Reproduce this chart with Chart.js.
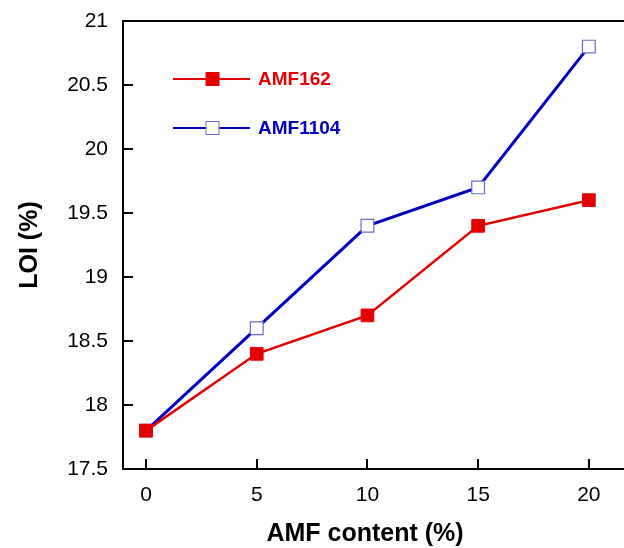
<!DOCTYPE html>
<html>
<head>
<meta charset="utf-8">
<script src="https://cdn.jsdelivr.net/npm/chart.js@4"></script>
<style>
  html, body { margin: 0; padding: 0; background: #fff; overflow: hidden; }
  #wrap { width: 640px; height: 548px; }
</style>
</head>
<body>
<div id="wrap"><canvas id="loiChart" width="640" height="548"></canvas></div>
<script>
const amfContent = [0, 5, 10, 15, 20];
const amf162 = [17.8, 18.4, 18.7, 19.4, 19.6];
const amf1104 = [17.8, 18.6, 19.4, 19.7, 20.8];
const xTicks = [0, 5, 10, 15, 20];
const yTicks = [17.5, 18, 18.5, 19, 19.5, 20, 20.5, 21];

const RED = "#e30000";
const BLUE = "#0000c0";
const tickFont = { family: "Liberation Sans, Arial, sans-serif", size: 21 };

// box, inward ticks, axis titles and the in-plot legend
const decorations = {
    id: "decorations",
    afterDraw(chart) {
        const c = chart.ctx;
        const a = chart.chartArea;
        const x = chart.scales.x, y = chart.scales.y;
        c.save();
        c.strokeStyle = "#000";
        c.lineWidth = 2;
        c.strokeRect(a.left, a.top, a.right - a.left, a.bottom - a.top);
        c.beginPath();
        xTicks.forEach(v => {
            const px = Math.round(x.getPixelForValue(v));
            c.moveTo(px, a.bottom);
            c.lineTo(px, a.bottom - 10);
        });
        yTicks.forEach(v => {
            const py = Math.round(y.getPixelForValue(v));
            c.moveTo(a.left, py);
            c.lineTo(a.left + 10, py);
        });
        c.stroke();

        c.fillStyle = "#000";
        c.font = "bold 25px Liberation Sans, Arial, sans-serif";
        c.textAlign = "center";
        c.textBaseline = "middle";
        c.fillText("AMF content (%)", 365, 534);
        c.translate(30, 245);
        c.rotate(-Math.PI / 2);
        c.fillText("LOI (%)", 0, 0);
        c.restore();

        // legend
        const items = [
            { text: "AMF162", color: RED, fill: RED, border: RED, y: 79 },
            { text: "AMF1104", color: BLUE, fill: "#fff", border: "#6a6ad0", y: 128 }
        ];
        c.save();
        items.forEach(it => {
            c.strokeStyle = it.color;
            c.lineWidth = 2;
            c.beginPath();
            c.moveTo(173, it.y);
            c.lineTo(250, it.y);
            c.stroke();
            c.fillStyle = it.fill;
            c.fillRect(206, it.y - 6.5, 13, 13);
            c.strokeStyle = it.border;
            c.lineWidth = 1;
            c.strokeRect(206, it.y - 6.5, 13, 13);
            c.fillStyle = it.color;
            c.font = "bold 19px Liberation Sans, Arial, sans-serif";
            c.textAlign = "left";
            c.textBaseline = "middle";
            c.fillText(it.text, 258, it.y + 1);
        });
        c.restore();
    }
};

new Chart(document.getElementById("loiChart"), {
    type: "line",
    data: {
        datasets: [{
            label: "AMF162",
            data: amfContent.map((v, i) => ({ x: v, y: amf162[i] })),
            borderColor: RED,
            borderWidth: 2.5,
            pointStyle: "rect",
            pointRadius: 9,
            pointBackgroundColor: RED,
            pointBorderColor: RED,
            pointBorderWidth: 1,
            tension: 0
        }, {
            label: "AMF1104",
            data: amfContent.map((v, i) => ({ x: v, y: amf1104[i] })),
            borderColor: BLUE,
            borderWidth: 3,
            pointStyle: "rect",
            pointRadius: 9,
            pointBackgroundColor: "#fff",
            pointBorderColor: "#6a6ad0",
            pointBorderWidth: 1.2,
            tension: 0
        }]
    },
    options: {
        responsive: false,
        animation: false,
        layout: { padding: { top: 21, right: 7, left: 0, bottom: 0 } },
        plugins: { legend: { display: false }, tooltip: { enabled: false } },
        scales: {
            x: {
                type: "linear",
                min: -1.04,
                max: 21.85,
                afterBuildTicks: s => { s.ticks = xTicks.map(v => ({ value: v })); },
                afterFit: s => { s.height = 79; },
                grid: { display: false },
                border: { display: false },
                ticks: { color: "#000", font: tickFont, padding: 6, callback: v => String(v) }
            },
            y: {
                min: 17.5,
                max: 21,
                afterBuildTicks: s => { s.ticks = yTicks.map(v => ({ value: v })); },
                afterFit: s => { s.width = 123; },
                grid: { display: false },
                border: { display: false },
                ticks: { color: "#000", font: tickFont, padding: 7, callback: v => String(v) }
            }
        }
    },
    plugins: [decorations]
});
</script>
</body>
</html>
